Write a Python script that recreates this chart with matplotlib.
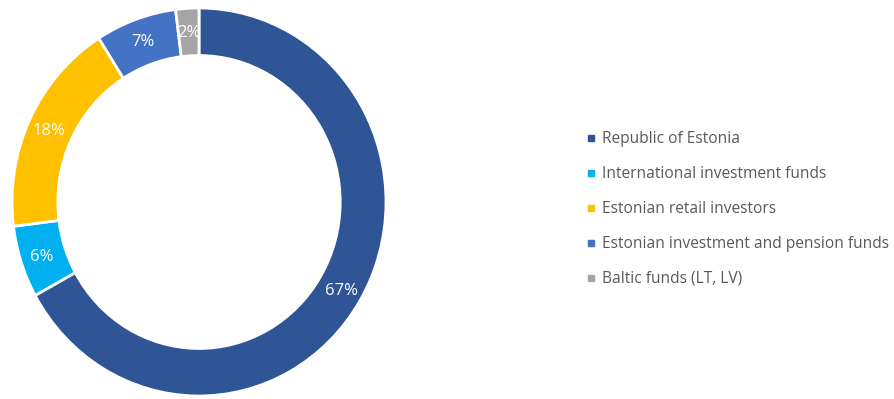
import matplotlib
matplotlib.use("Agg")
import matplotlib.pyplot as plt
from matplotlib.lines import Line2D
import matplotlib.transforms as mtransforms
import numpy as np

categories = ["Republic of Estonia", "International investment funds", "Estonian retail investors",
              "Estonian investment and pension funds", "Baltic funds (LT, LV)"]
values = [67, 6, 18, 7, 2]
labels = ["67%", "6%", "18%", "7%", "2%"]
colors = ["#2F5597", "#00B0F0", "#FFC000", "#4472C4", "#A5A5A5"]

plt.rcParams['font.family'] = ['Open Sans', 'DejaVu Sans']

W, H = 894, 399
fig = plt.figure(figsize=(W / 100, H / 100), dpi=100)
# donut is slightly taller than wide in the reference
x0, x1 = 12, 386
ytop, ybot = 8, 396
ax = fig.add_axes([x0 / W, (H - ybot) / H, (x1 - x0) / W, (ybot - ytop) / H])
ring = 0.245
wedges, texts = ax.pie(values, colors=colors, startangle=90, counterclock=False, radius=1.0,
                       wedgeprops=dict(width=ring, edgecolor="white", linewidth=2))
ang = 90.0
tot = sum(values)
off = mtransforms.offset_copy(ax.transData, fig=fig, x=0, y=-2, units="dots")
for v, lab in zip(values, labels):
    span = 360.0 * v / tot
    mid = np.deg2rad(ang - span / 2)
    r = 0.885
    ax.text(r * np.cos(mid), r * np.sin(mid), lab, ha="center", va="center",
            color="white", fontsize=12, transform=off)
    ang -= span
ax.set_xlim(-1, 1)
ax.set_ylim(-1, 1)
ax.set_aspect("auto")
ax.axis("off")

handles = [Line2D([0], [0], marker="s", linestyle="none", markersize=5,
                  markerfacecolor=c, markeredgecolor=c) for c in colors]
leg = fig.legend(handles, categories, loc="center left", bbox_to_anchor=(586 / W, 1 - 209 / H),
                 frameon=False, fontsize=11.2, labelspacing=1.22, handlelength=0.6,
                 handletextpad=0.43, borderpad=0, borderaxespad=0)
for t in leg.get_texts():
    t.set_color("#595959")

fig.savefig("out.png", dpi=100)
